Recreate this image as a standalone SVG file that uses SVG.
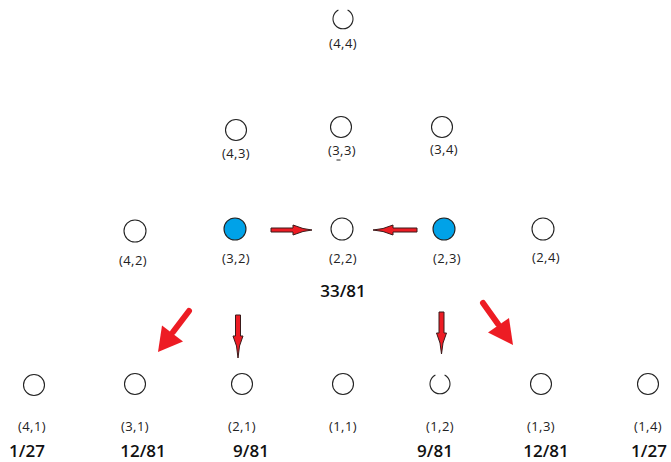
<svg xmlns="http://www.w3.org/2000/svg" width="671" height="462" viewBox="0 0 671 462">
  <style>
    .node { fill: #ffffff; stroke: #222222; stroke-width: 1.1; }
    .node.active { fill: #00a2e8; }
    .arc { fill: none; stroke: #222222; stroke-width: 1.1; }
    .lbl { font-family: "Open Sans", "Liberation Sans", sans-serif; font-size: 13px; fill: #222222; text-anchor: middle; letter-spacing: 0.4px; }
    .prob { font-family: "Open Sans", "Liberation Sans", sans-serif; font-size: 17px; font-weight: 600; fill: #111111; text-anchor: middle; }
    .flow { fill: #ed1c24; stroke: #3a1a1a; stroke-width: 1; stroke-linejoin: miter; }
    .big { fill: #ed1c24; }
    .bigshaft { stroke: #ed1c24; stroke-width: 6; stroke-linecap: round; fill: none; }
  </style>
  <rect width="671" height="462" fill="#ffffff"/>

  <!-- top level -->
  <g id="n44">
    <path class="arc" d="M 347.6 9.9 A 10 10 0 1 1 338.4 9.9"/>
    <text class="lbl" x="343" y="48">(4,4)</text>
  </g>

  <!-- second level -->
  <g id="n43">
    <circle class="node" cx="236" cy="130" r="10.5"/>
    <text class="lbl" x="236" y="158">(4,3)</text>
  </g>
  <g id="n33">
    <circle class="node" cx="341" cy="127" r="10.5"/>
    <text class="lbl" x="342" y="155">(3,3)</text>
    <line x1="336.5" y1="160" x2="340.5" y2="160" stroke="#222222" stroke-width="1"/>
  </g>
  <g id="n34">
    <circle class="node" cx="442" cy="127" r="10.5"/>
    <text class="lbl" x="444" y="154">(3,4)</text>
  </g>

  <!-- third level -->
  <g id="n42">
    <circle class="node" cx="135" cy="231" r="11"/>
    <text class="lbl" x="133" y="265">(4,2)</text>
  </g>
  <g id="n32">
    <circle class="node active" cx="235" cy="229" r="11"/>
    <text class="lbl" x="236" y="263">(3,2)</text>
  </g>
  <g id="n22">
    <circle class="node" cx="342" cy="229" r="11"/>
    <text class="lbl" x="343" y="263">(2,2)</text>
    <text class="prob" x="343" y="297">33/81</text>
  </g>
  <g id="n23">
    <circle class="node active" cx="444" cy="229" r="11"/>
    <text class="lbl" x="447" y="263">(2,3)</text>
  </g>
  <g id="n24">
    <circle class="node" cx="543" cy="229" r="11"/>
    <text class="lbl" x="546" y="262">(2,4)</text>
  </g>

  <!-- bottom level -->
  <g id="n41">
    <circle class="node" cx="34" cy="385" r="10.5"/>
    <text class="lbl" x="32" y="431">(4,1)</text>
    <text class="prob" x="27" y="457">1/27</text>
  </g>
  <g id="n31">
    <circle class="node" cx="135" cy="384" r="10.5"/>
    <text class="lbl" x="135" y="431">(3,1)</text>
    <text class="prob" x="143" y="457">12/81</text>
  </g>
  <g id="n21">
    <circle class="node" cx="242" cy="384" r="10.5"/>
    <text class="lbl" x="242" y="431">(2,1)</text>
    <text class="prob" x="251" y="457">9/81</text>
  </g>
  <g id="n11">
    <circle class="node" cx="343" cy="384" r="10.5"/>
    <text class="lbl" x="343" y="431">(1,1)</text>
  </g>
  <g id="n12">
    <path class="arc" d="M 444.6 374.9 A 10 10 0 1 1 435.4 374.9"/>
    <text class="lbl" x="440" y="431">(1,2)</text>
    <text class="prob" x="435" y="457">9/81</text>
  </g>
  <g id="n13">
    <circle class="node" cx="541" cy="384" r="10.5"/>
    <text class="lbl" x="541" y="431">(1,3)</text>
    <text class="prob" x="546" y="457">12/81</text>
  </g>
  <g id="n14">
    <circle class="node" cx="648" cy="384" r="10.5"/>
    <text class="lbl" x="648" y="431">(1,4)</text>
    <text class="prob" x="649" y="457">1/27</text>
  </g>

  <!-- connectors -->
  <g id="connectors">
    <!-- into (2,2) from the left -->
    <path class="flow" d="M 271 228 L 293 228 L 293 225 L 303 228.5 L 312 230 L 303 231.5 L 293 235 L 293 232 L 271 232 Z"/>
    <!-- into (2,2) from the right -->
    <path class="flow" d="M 417 228 L 393 228 L 393 225 L 383 228.5 L 373 230 L 383 231.5 L 393 235 L 393 232 L 417 232 Z"/>
    <!-- down from (3,2) -->
    <path class="flow" d="M 235.5 315 L 240.5 315 L 240.5 336 L 243 336 L 239.5 346 L 238 358 L 236.5 346 L 233 336 L 235.5 336 Z"/>
    <!-- down from (2,3) -->
    <path class="flow" d="M 439 312 L 444 312 L 444 333 L 446.5 333 L 443 343 L 441.5 354 L 440 343 L 436.5 333 L 439 333 Z"/>
    <!-- diagonal, lower left -->
    <line class="bigshaft" x1="189" y1="311" x2="173" y2="332"/>
    <polygon class="big" points="158,352 162,325.5 183,341.5"/>
    <!-- diagonal, lower right -->
    <line class="bigshaft" x1="483" y1="303" x2="498" y2="324"/>
    <polygon class="big" points="513,345 488,332.5 509,318"/>
  </g>
</svg>
